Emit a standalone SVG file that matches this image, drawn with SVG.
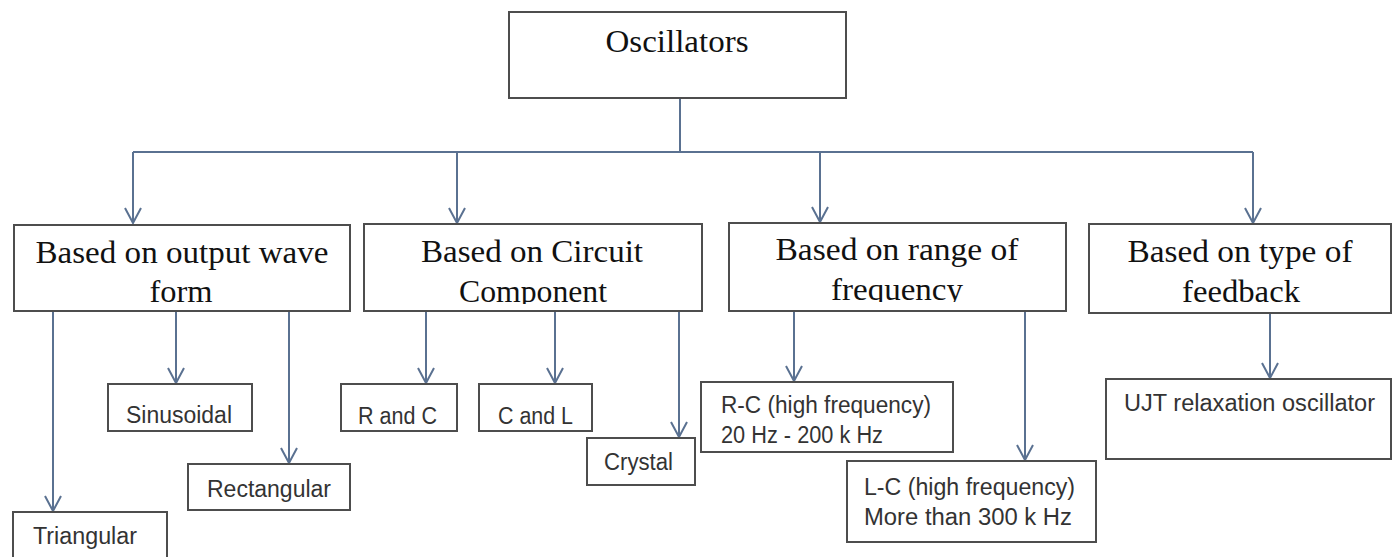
<svg xmlns="http://www.w3.org/2000/svg" width="1393" height="557" viewBox="0 0 1393 557">
<style>
.box{fill:#fff;stroke:#4d4d4d;stroke-width:2}
.big{font-family:"Liberation Serif","Times New Roman",serif;font-size:32px;fill:#111;text-anchor:middle}
.sm{font-family:"Liberation Sans",Arial,sans-serif;font-size:23px;fill:#333}
.con{fill:none;stroke:#5a7191;stroke-width:2}
</style>
<defs>
<marker id="v" markerUnits="userSpaceOnUse" markerWidth="18" markerHeight="18" viewBox="0 0 18 18" refX="16" refY="9" orient="auto"><path d="M1,1 L16,9 L1,17" fill="none" stroke="#5a7191" stroke-width="2"/></marker>
<clipPath id="c2"><rect x="364" y="224" width="338" height="80"/></clipPath>
<clipPath id="c3"><rect x="729" y="223" width="337" height="79"/></clipPath>
</defs>
<rect width="1393" height="557" fill="#fff"/>
<g id="connectors" class="con">
<path d="M680,98 V152 M133,152 H1253"/>
<path d="M133,152 V223" marker-end="url(#v)"/>
<path d="M457,152 V223" marker-end="url(#v)"/>
<path d="M820,152 V222" marker-end="url(#v)"/>
<path d="M1253,152 V223" marker-end="url(#v)"/>
<path d="M53,311 V511" marker-end="url(#v)"/>
<path d="M176,311 V383" marker-end="url(#v)"/>
<path d="M289,311 V463" marker-end="url(#v)"/>
<path d="M426,311 V383" marker-end="url(#v)"/>
<path d="M555,311 V383" marker-end="url(#v)"/>
<path d="M679,311 V437" marker-end="url(#v)"/>
<path d="M794,311 V381" marker-end="url(#v)"/>
<path d="M1025,311 V460" marker-end="url(#v)"/>
<path d="M1270,313 V378" marker-end="url(#v)"/>
</g>
<g id="oscillators"><rect class="box" x="509" y="12" width="337" height="86"/><text class="big" x="677" y="52" textLength="143" lengthAdjust="spacingAndGlyphs">Oscillators</text></g>
<g id="wave"><rect class="box" x="14" y="225" width="336" height="86"/><text class="big" x="182" y="263" textLength="293" lengthAdjust="spacingAndGlyphs">Based on output wave</text><text class="big" x="181" y="302" textLength="63" lengthAdjust="spacingAndGlyphs">form</text></g>
<g id="circuit"><rect class="box" x="364" y="224" width="338" height="87"/><g clip-path="url(#c2)"><text class="big" x="532" y="262" textLength="222" lengthAdjust="spacingAndGlyphs">Based on Circuit</text><text class="big" x="533" y="302" textLength="148" lengthAdjust="spacingAndGlyphs">Component</text></g></g>
<g id="range"><rect class="box" x="729" y="223" width="337" height="88"/><g clip-path="url(#c3)"><text class="big" x="897" y="260" textLength="243" lengthAdjust="spacingAndGlyphs">Based on range of</text><text class="big" x="897" y="300" textLength="132" lengthAdjust="spacingAndGlyphs">frequency</text></g></g>
<g id="feedback"><rect class="box" x="1089" y="224" width="302" height="89"/><text class="big" x="1240" y="262" textLength="225" lengthAdjust="spacingAndGlyphs">Based on type of</text><text class="big" x="1241" y="302" textLength="118" lengthAdjust="spacingAndGlyphs">feedback</text></g>
<g id="sinusoidal"><rect class="box" x="108" y="384" width="144" height="47"/><text class="sm" x="126" y="423" textLength="106" lengthAdjust="spacingAndGlyphs">Sinusoidal</text></g>
<g id="rectangular"><rect class="box" x="188" y="464" width="162" height="46"/><text class="sm" x="207" y="497" textLength="124" lengthAdjust="spacingAndGlyphs">Rectangular</text></g>
<g id="triangular"><rect class="box" x="13" y="512" width="154" height="50"/><text class="sm" x="33" y="544" textLength="104" lengthAdjust="spacingAndGlyphs">Triangular</text></g>
<g id="randc"><rect class="box" x="341" y="384" width="116" height="47"/><text class="sm" x="358" y="424" textLength="79" lengthAdjust="spacingAndGlyphs">R and C</text></g>
<g id="candl"><rect class="box" x="479" y="384" width="113" height="47"/><text class="sm" x="498" y="424" textLength="75" lengthAdjust="spacingAndGlyphs">C and L</text></g>
<g id="crystal"><rect class="box" x="587" y="438" width="108" height="47"/><text class="sm" x="604" y="470" textLength="69" lengthAdjust="spacingAndGlyphs">Crystal</text></g>
<g id="rc"><rect class="box" x="701" y="382" width="252" height="70"/><text class="sm" x="721" y="413" textLength="210" lengthAdjust="spacingAndGlyphs">R-C (high frequency)</text><text class="sm" x="721" y="443" textLength="162" lengthAdjust="spacingAndGlyphs">20 Hz - 200 k Hz</text></g>
<g id="lc"><rect class="box" x="847" y="461" width="249" height="81"/><text class="sm" x="864" y="495" textLength="211" lengthAdjust="spacingAndGlyphs">L-C (high frequency)</text><text class="sm" x="864" y="525" textLength="208" lengthAdjust="spacingAndGlyphs">More than 300 k Hz</text></g>
<g id="ujt"><rect class="box" x="1106" y="379" width="285" height="80"/><text class="sm" x="1124" y="411" textLength="251" lengthAdjust="spacingAndGlyphs">UJT relaxation oscillator</text></g>
</svg>
